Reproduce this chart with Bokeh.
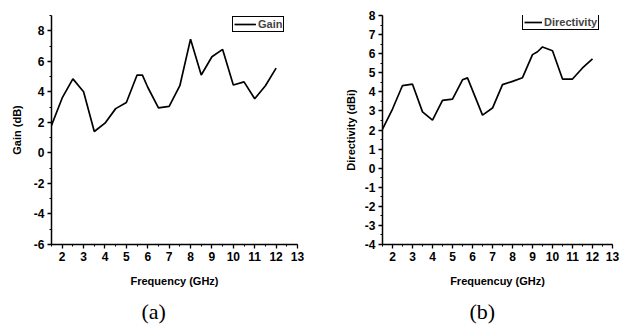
from bokeh.plotting import figure
from bokeh.layouts import row
from bokeh.models import Range1d, SingleIntervalTicker, Title, Legend, LegendItem
from bokeh.embed import file_html
from bokeh.resources import INLINE

# ---- data ----
freq_gain = [1.5, 2, 2.5, 3, 3.5, 4, 4.5, 5, 5.5, 5.75, 6, 6.5, 7, 7.5, 8, 8.5, 9, 9.5, 10, 10.5, 11, 11.5, 12]
gain = [1.8, 3.6, 4.85, 4.0, 1.4, 1.95, 2.9, 3.3, 5.1, 5.1, 4.3, 2.95, 3.05, 4.4, 7.45, 5.1, 6.3, 6.78, 4.45, 4.65, 3.55, 4.4, 5.55]
freq_dir = [1.5, 2, 2.5, 3, 3.5, 4, 4.5, 5, 5.5, 5.75, 6.5, 7, 7.5, 8, 8.5, 9, 9.25, 9.5, 10, 10.5, 11, 11.5, 12]
directivity = [2.05, 3.1, 4.33, 4.4, 2.95, 2.52, 3.55, 3.62, 4.63, 4.73, 2.78, 3.15, 4.38, 4.55, 4.74, 5.95, 6.1, 6.35, 6.15, 4.67, 4.67, 5.25, 5.73]

gain_ticks = [-6, -4, -2, 0, 2, 4, 6, 8]
gain_tick_labels = ["-6", "-4", "-2", "0", "2", "4", "6", "8"]
dir_ticks = [-4, -3, -2, -1, 0, 1, 2, 3, 4, 5, 6, 7, 8]
dir_tick_labels = ["-4", "-3", "-2", "-1", "0", "1", "2", "3", "4", "5", "6", "7", "8"]

FONT = "Liberation Sans"
SERIF = "Liberation Serif"


def style(p, y_step, yt, ytl):
    for ax in (p.xaxis[0], p.yaxis[0]):
        ax.axis_line_width = 1.5
        ax.major_tick_line_width = 1.3
        ax.minor_tick_line_width = 1.0
        ax.major_tick_out = 4
        ax.major_tick_in = 0
        ax.minor_tick_out = 2
        ax.minor_tick_in = 0
        ax.major_label_text_font = FONT
        ax.major_label_text_font_style = "bold"
        ax.major_label_text_font_size = "12px"
        ax.major_label_text_color = "black"
        ax.axis_label_text_font = FONT
        ax.axis_label_text_font_style = "bold"
        ax.axis_label_text_font_size = "11px"
        ax.axis_label_text_color = "black"
        ax.major_label_standoff = 3
    p.xaxis[0].ticker = SingleIntervalTicker(interval=1, num_minor_ticks=2)
    p.yaxis[0].ticker = SingleIntervalTicker(interval=y_step, num_minor_ticks=2)
    p.yaxis[0].major_label_overrides = {t: s for t, s in zip(yt, ytl)}
    p.xaxis[0].axis_label_standoff = 11
    p.xgrid.visible = False
    p.ygrid.visible = False
    p.outline_line_color = None


def make_legend(p, r, label, loc, gw):
    lg = Legend(items=[LegendItem(label=label, renderers=[r])], location=loc)
    lg.label_text_font = FONT
    lg.label_text_font_style = "bold"
    lg.label_text_font_size = "11px"
    lg.label_standoff = 2
    lg.glyph_width = gw
    lg.glyph_height = 10
    lg.padding = 1
    lg.margin = 0
    lg.spacing = 0
    lg.label_height = 10
    lg.border_line_color = "black"
    lg.border_line_alpha = 1.0
    lg.border_line_width = 1.2
    lg.background_fill_alpha = 1
    p.add_layout(lg, "center")


def caption(p, text, offset):
    t = Title(text=text, align="left", offset=offset, standoff=14,
              text_font=SERIF, text_font_size="22px", text_font_style="normal",
              text_color="black")
    p.add_layout(t, "below")


p1 = figure(width=330, height=332, output_backend="svg", toolbar_location=None,
            x_range=Range1d(1.5, 13), y_range=Range1d(-6, 9),
            min_border_left=51, min_border_right=33, min_border_top=15, min_border_bottom=88)
style(p1, 2, gain_ticks, gain_tick_labels)
p1.xaxis.axis_label = "Frequency (GHz)"
p1.yaxis.axis_label = "Gain (dB)"
p1.yaxis[0].axis_label_standoff = 8
r1 = p1.line(freq_gain, gain, line_color="black", line_width=1.7)
make_legend(p1, r1, "Gain", (181, 212), 22)
caption(p1, "(a)", 90)

p2 = figure(width=296, height=332, output_backend="svg", toolbar_location=None,
            x_range=Range1d(1.5, 13), y_range=Range1d(-4, 8),
            min_border_left=52, min_border_right=14, min_border_top=10, min_border_bottom=88)
style(p2, 1, dir_ticks, dir_tick_labels)
p2.xaxis.axis_label = "Frequencuy (GHz)"
p2.yaxis.axis_label = "Directivity (dBi)"
p2.yaxis[0].axis_label_standoff = 5
r2 = p2.line(freq_dir, directivity, line_color="black", line_width=1.7)
make_legend(p2, r2, "Directivity", (140, 214), 18)
caption(p2, "(b)", 87)

layout = row(p1, p2, spacing=0)
open("out.html", "w").write(file_html(layout, INLINE))
